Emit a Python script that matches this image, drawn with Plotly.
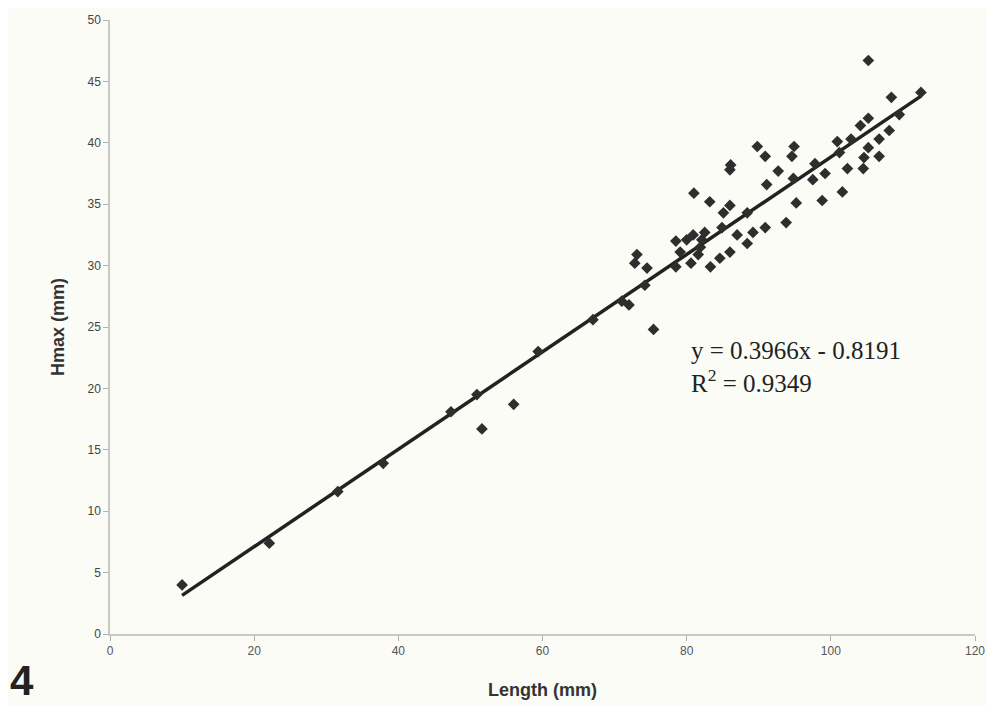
import numpy as np
import plotly.graph_objects as go

length_mm = [10.0, 22.1, 31.6, 37.9, 47.3, 50.9, 51.6, 56.0, 59.4, 67.0,
             71.0, 72.0, 72.8, 73.1, 74.2, 74.5, 75.4, 78.5, 78.5, 79.1,
             80.0, 80.6, 80.9, 81.0, 81.6, 81.9, 82.1, 82.5, 83.2, 83.3,
             84.6, 84.9, 85.1, 86.0, 86.0, 86.0, 86.1, 87.0, 88.4, 88.4,
             89.2, 89.8, 90.9, 90.9, 91.1, 92.7, 93.8, 94.6, 94.8, 94.9,
             95.2, 97.5, 97.8, 98.8, 99.2, 100.9, 101.2, 101.6, 102.3, 102.8,
             104.1, 104.5, 104.6, 105.2, 105.2, 105.2, 106.7, 106.7, 108.1, 108.4,
             109.5, 112.5]
hmax_mm = [4.0, 7.4, 11.6, 13.9, 18.1, 19.5, 16.7, 18.7, 23.0, 25.6,
           27.1, 26.8, 30.2, 30.9, 28.4, 29.8, 24.8, 29.9, 32.0, 31.1,
           32.1, 30.2, 32.5, 35.9, 30.9, 31.5, 32.1, 32.7, 35.2, 29.9,
           30.6, 33.1, 34.3, 34.9, 31.1, 37.8, 38.2, 32.5, 31.8, 34.3,
           32.7, 39.7, 38.9, 33.1, 36.6, 37.7, 33.5, 38.9, 37.1, 39.7,
           35.1, 37.0, 38.3, 35.3, 37.5, 40.1, 39.2, 36.0, 37.9, 40.3,
           41.4, 37.9, 38.8, 42.0, 39.6, 46.7, 38.9, 40.3, 41.0, 43.7,
           42.3, 44.1]

slope = 0.3966
intercept = -0.8191
r_squared = 0.9349

x_ticks = [0, 20, 40, 60, 80, 100, 120]
y_ticks = [0, 5, 10, 15, 20, 25, 30, 35, 40, 45, 50]

fit_x = np.array([min(length_mm), max(length_mm)])
fit_y = slope * fit_x + intercept

bg = "#fbfcf6"
W, H = 979, 698
ML, MR, MT, MB = 102, 12, 12, 72
PW, PH = W - ML - MR, H - MT - MB

fig = go.Figure()
fig.add_trace(go.Scatter(
    x=fit_x, y=fit_y, mode="lines",
    line=dict(color="#222222", width=3.5), hoverinfo="skip", showlegend=False))
fig.add_trace(go.Scatter(
    x=length_mm, y=hmax_mm, mode="markers",
    marker=dict(symbol="diamond", size=9, color="#2e2e2e"),
    showlegend=False))

serif = "Liberation Serif, Times New Roman, serif"
fig.update_layout(
    width=W, height=H,
    margin=dict(l=ML, r=MR, t=MT, b=MB, autoexpand=False),
    paper_bgcolor=bg, plot_bgcolor=bg,
    font=dict(family="Liberation Sans, Arial, sans-serif", color="#444444", size=12),
    xaxis=dict(range=[0, 120], tickvals=x_ticks, showgrid=False, zeroline=False,
               showline=True, linecolor="#c8c8c8", linewidth=1.5,
               ticks="outside", ticklen=5, tickcolor="#b0b0b0", automargin=False,
               tickfont=dict(size=12, color="#555555", family="Liberation Sans Narrow, Liberation Sans, Arial"),
               title=dict(text="<b>Length (mm)</b>", font=dict(size=18, color="#333333"), standoff=26)),
    yaxis=dict(range=[0, 50], tickvals=y_ticks, showgrid=False, zeroline=False,
               showline=True, linecolor="#c8c8c8", linewidth=1.5,
               ticks="outside", ticklen=5, tickcolor="#b0b0b0", automargin=False,
               tickfont=dict(size=12, color="#444444"),
               title=dict(text="<b>Hmax (mm)</b>", font=dict(size=18, color="#333333"), standoff=18)),
    annotations=[
        dict(x=80.3, y=23.1, xref="x", yref="y", xanchor="left", yanchor="middle",
             text=f"y = {slope}x - {abs(intercept)}", showarrow=False,
             font=dict(family=serif, size=25, color="#222222")),
        dict(x=80.3, y=20.6, xref="x", yref="y", xanchor="left", yanchor="middle",
             text=f"R<sup>2</sup> = {r_squared}", showarrow=False,
             font=dict(family=serif, size=25, color="#222222")),
        dict(x=(1 - ML) / PW, y=(-MB + 1) / PH, xref="paper", yref="paper",
             xanchor="left", yanchor="bottom", showarrow=False, text="<b>4</b>",
             borderpad=0,
             font=dict(family="Liberation Sans Narrow, Liberation Sans, Arial", size=42, color="#222222")),
    ],
)
fig.write_html("out.html")
